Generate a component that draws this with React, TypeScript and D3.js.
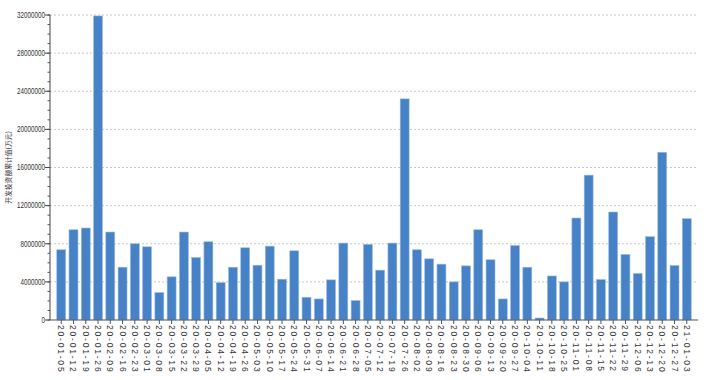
import React from "react";
import * as d3 from "d3";

const categories: string[] = [
  "20-01-05","20-01-12","20-01-19","20-01-26","20-02-09","20-02-16","20-02-23",
  "20-03-01","20-03-08","20-03-15","20-03-22","20-03-29","20-04-05","20-04-12",
  "20-04-19","20-04-26","20-05-03","20-05-10","20-05-17","20-05-24","20-05-31",
  "20-06-07","20-06-14","20-06-21","20-06-28","20-07-05","20-07-12","20-07-19",
  "20-07-26","20-08-02","20-08-09","20-08-16","20-08-23","20-08-30","20-09-06",
  "20-09-13","20-09-20","20-09-27","20-10-04","20-10-11","20-10-18","20-10-25",
  "20-11-01","20-11-08","20-11-15","20-11-22","20-11-29","20-12-06","20-12-13",
  "20-12-20","20-12-27","21-01-03",
];

const values: number[] = [
  7370000, 9470000, 9650000, 31900000, 9230000, 5540000, 8000000,
  7680000, 2880000, 4530000, 9230000, 6560000, 8210000, 3920000,
  5540000, 7580000, 5750000, 7750000, 4280000, 7260000, 2390000,
  2210000, 4210000, 8070000, 2040000, 7930000, 5230000, 8070000,
  23200000, 7370000, 6420000, 5860000, 4000000, 5680000, 9470000,
  6320000, 2210000, 7820000, 5540000, 210000, 4620000, 4000000,
  10700000, 15200000, 4250000, 11330000, 6880000, 4880000, 8740000,
  17600000, 5720000, 10630000,
];

const yTicks: number[] = [0, 4000000, 8000000, 12000000, 16000000, 20000000, 24000000, 28000000, 32000000];
const yTitle = "开发投资额累计值(万元)";

export default function App() {
  const W = 718, H = 380;
  const left = 50, right = 698, top = 15, bottom = 320;
  const x = d3.scaleBand<string>().domain(categories).range([left, right]).paddingInner(0.27).paddingOuter(0.55);
  const y = d3.scaleLinear().domain([0, 32000000]).range([bottom, top]);
  const minor = d3.range(0, 32000001, 1000000);
  const font = "'Liberation Sans', Arial, sans-serif";

  return (
    <svg width={W} height={H} style={{ position: "absolute", left: 0, top: 0, background: "#fff" }}>
      {/* grid */}
      {yTicks.filter((t) => t > 0).map((t) => (
        <line key={"g" + t} x1={left} x2={right} y1={y(t)} y2={y(t)} stroke="#c8c8c8" strokeWidth={1} strokeDasharray="2,2" />
      ))}
      {/* bars */}
      {values.map((v, i) => (
        <rect key={i} x={x(categories[i])!} y={y(v)} width={x.bandwidth()} height={bottom - y(v)}
          fill="#4682c5" stroke="#9cbde6" strokeWidth={0.6} />
      ))}
      {/* y axis */}
      <line x1={left} x2={left} y1={top} y2={bottom} stroke="#444" strokeWidth={1} />
      {minor.map((t) => (
        <line key={"m" + t} x1={left - 2.5} x2={left} y1={y(t)} y2={y(t)} stroke="#555" strokeWidth={1} />
      ))}
      {yTicks.map((t) => (
        <g key={"y" + t}>
          <line x1={left - 5} x2={left} y1={y(t)} y2={y(t)} stroke="#444" strokeWidth={1} />
          <text transform={`translate(${left - 5},${y(t)}) scale(0.74,1)`} textAnchor="end" dominantBaseline="central"
            fontSize={8.5} fontFamily={font} fill="#333">{t}</text>
        </g>
      ))}
      {/* x axis */}
      <line x1={left} x2={right} y1={bottom} y2={bottom} stroke="#555" strokeWidth={1.2} />
      {categories.map((c) => {
        const cx = x(c)! + x.bandwidth() / 2;
        return (
          <g key={"x" + c}>
            <line x1={cx} x2={cx} y1={bottom} y2={bottom + 4} stroke="#555" strokeWidth={1} />
            <text transform={`translate(${cx},${bottom + 5}) rotate(90)`} textAnchor="start" dominantBaseline="central"
              fontSize={8.5} fontFamily={font} letterSpacing={1.8} fill="#333">{c}</text>
          </g>
        );
      })}
      {/* y title */}
      <text transform={`translate(8,${(top + bottom) / 2}) rotate(-90)`} textAnchor="middle" dominantBaseline="central"
        fontSize={6.8} fontFamily="'Noto Sans CJK SC', sans-serif" fill="#333">{yTitle}</text>
    </svg>
  );
}
